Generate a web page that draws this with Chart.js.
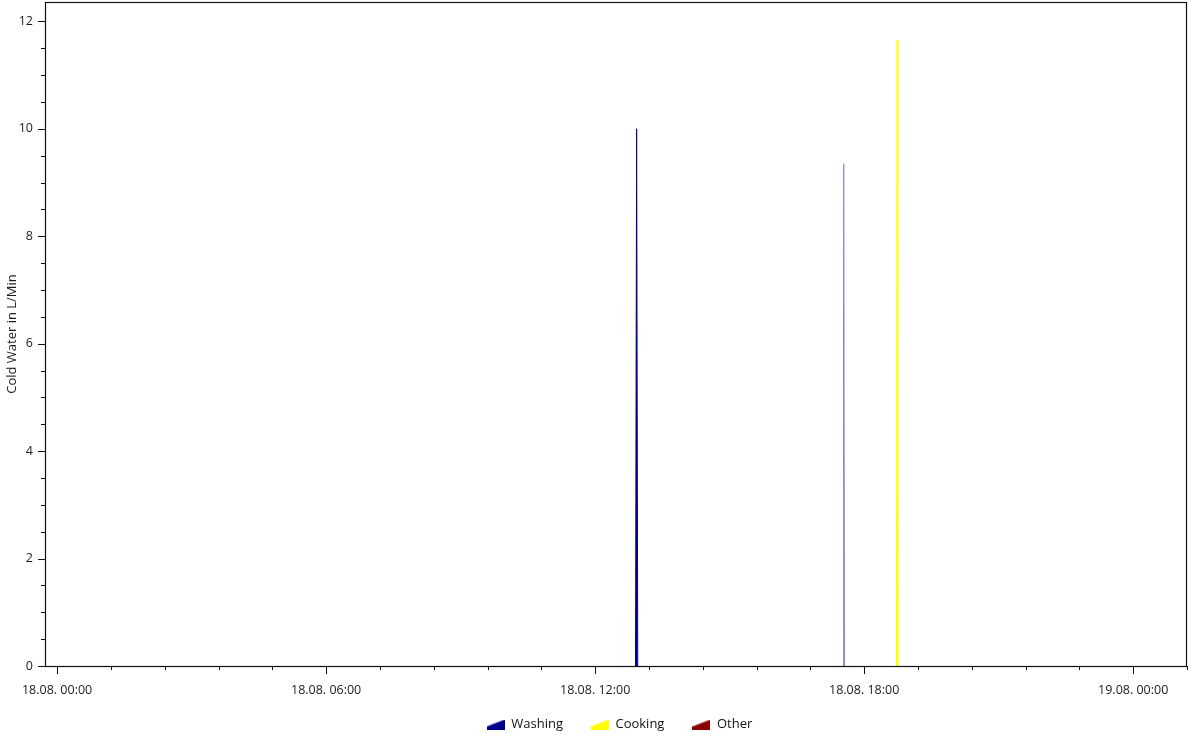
<!DOCTYPE html>
<html>
<head>
<meta charset="utf-8">
<title>Cold Water</title>
<script src="https://cdn.jsdelivr.net/npm/chart.js@4.4.1/dist/chart.umd.min.js"></script>
<style>
  html, body { margin: 0; padding: 0; background: #fff; overflow: hidden; }
  #wrap { width: 1188px; height: 735px; position: relative; }
</style>
</head>
<body>
<div id="wrap"><canvas id="chart"></canvas></div>
<script>
// time in hours since 18.08. 00:00, flow in L/Min
const washingTimes = [12.9, 12.925, 12.95, 17.53, 17.545, 17.56];
const washingFlow  = [0, 10, 0, 0, 9.35, 0];
const cookingTimes = [18.72, 18.735, 18.75];
const cookingFlow  = [0, 11.65, 0];
const otherTimes   = [0, 24];
const otherFlow    = [0, 0];

const seriesNames = ['Washing', 'Cooking', 'Other'];
const dayLabels = ['18.08.', '19.08.'];

const xMin = -0.27, xMax = 25.2;
const yMin = 0, yMax = 12.36;
const xStep = 1.2;   // small ticks, a label every 5th (6 h)
const yStep = 0.5;   // small ticks, a label every 4th

const navy = 'rgb(0, 0, 139)';
const navyFaint = 'rgba(40, 40, 170, 0.4)';
const yellow = 'rgb(255, 255, 0)';
const darkRed = 'rgb(139, 0, 0)';
const axisColor = '#111';
const textColor = '#1c1c1c';

const toPoints = (xs, ys) => xs.map((x, i) => ({ x: x, y: ys[i] }));

// little area icon for the legend
function areaIcon(color) {
  const c = document.createElement('canvas');
  c.width = 18; c.height = 10;
  const g = c.getContext('2d');
  g.fillStyle = color;
  g.beginPath();
  g.moveTo(0, 10);
  g.lineTo(0, 7);
  g.lineTo(18, 0);
  g.lineTo(18, 10);
  g.closePath();
  g.fill();
  return c;
}

function hourLabel(h) {
  const day = Math.floor(h / 24 + 1e-6);
  const hh = Math.round(h - day * 24);
  return dayLabels[day] + ' ' + String(hh).padStart(2, '0') + ':00';
}

// ticks + frame drawn by hand (short minor ticks, longer major ones),
// legend centred under the plot area
const framePlugin = {
  id: 'frame',
  afterLayout(chart) {
    if (chart.legend) {
      chart.legend.left = chart.chartArea.left + 7;
      chart.legend.right = chart.chartArea.right;
    }
    // let the time labels hang a little below the axis box without clipping
    chart.scales.x.bottom = chart.scales.x.top + 40;
  },
  afterDraw(chart) {
    const { ctx, chartArea: a, scales: { x, y } } = chart;
    ctx.save();
    ctx.strokeStyle = axisColor;
    ctx.lineWidth = 1;
    ctx.beginPath();
    x.ticks.forEach((t, i) => {
      const px = Math.round(x.getPixelForValue(t.value)) + 0.5;
      const len = i % 5 === 0 ? 8 : 4;
      ctx.moveTo(px, a.bottom);
      ctx.lineTo(px, a.bottom + len);
    });
    y.ticks.forEach((t, i) => {
      const py = Math.round(y.getPixelForValue(t.value)) + 0.5;
      const len = i % 4 === 0 ? 7 : 4;
      ctx.moveTo(a.left, py);
      ctx.lineTo(a.left - len, py);
    });
    ctx.stroke();
    ctx.lineWidth = 1.2;
    ctx.strokeRect(a.left + 0.5, a.top + 0.5, a.right - a.left - 1, a.bottom - a.top);
    ctx.restore();
  }
};

document.addEventListener('DOMContentLoaded', () => {
  Chart.defaults.font.family = "'Open Sans', 'Noto Sans', sans-serif";
  Chart.defaults.color = textColor;

  const onBaseline = (c) => c.p0.parsed.y === 0 && c.p1.parsed.y === 0;

  const makeSet = (label, xs, ys, color, segColor) => ({
    label: label,
    data: toPoints(xs, ys),
    borderColor: color,
    backgroundColor: color,
    borderWidth: 1,
    pointRadius: 0,
    fill: 'origin',
    tension: 0,
    pointStyle: areaIcon(color),
    segment: {
      borderColor: (c) => (onBaseline(c) ? 'rgba(0,0,0,0)' : segColor ? segColor(c) : undefined)
    }
  });

  new Chart(document.getElementById('chart'), {
    type: 'line',
    data: {
      datasets: [
        makeSet(seriesNames[0], washingTimes, washingFlow, navy,
          (c) => (c.p0.parsed.x > 15 ? navyFaint : undefined)),
        makeSet(seriesNames[1], cookingTimes, cookingFlow, yellow),
        makeSet(seriesNames[2], otherTimes, otherFlow, darkRed)
      ]
    },
    options: {
      responsive: true,
      maintainAspectRatio: false,
      animation: false,
      layout: { padding: { top: 2, right: 1, left: 0, bottom: -6 } },
      plugins: {
        tooltip: { enabled: false },
        legend: {
          position: 'bottom',
          labels: {
            usePointStyle: true,
            pointStyleWidth: 18,
            padding: 28,
            color: '#111',
            font: { size: 13 }
          }
        }
      },
      scales: {
        x: {
          type: 'linear',
          min: xMin,
          max: xMax,
          grid: { display: false, drawTicks: true, tickLength: 8 },
          border: { display: false },
          afterBuildTicks: (scale) => {
            const ticks = [];
            for (let i = 0; i * xStep <= xMax + 1e-6; i++) ticks.push({ value: i * xStep });
            scale.ticks = ticks;
          },
          afterFit: (scale) => {
            scale.height = 24;
            scale.paddingLeft = 0;
            scale.paddingRight = 0;
          },
          ticks: {
            autoSkip: false,
            maxRotation: 0,
            padding: 9,
            font: { size: 12.5 },
            callback: (v, i) => (i % 5 === 0 ? hourLabel(v) : '')
          }
        },
        y: {
          min: yMin,
          max: yMax,
          grid: { display: false, drawTicks: true, tickLength: 7 },
          border: { display: false },
          afterBuildTicks: (scale) => {
            const ticks = [];
            for (let i = 0; i * yStep <= yMax + 1e-6; i++) ticks.push({ value: i * yStep });
            scale.ticks = ticks;
          },
          afterFit: (scale) => {
            scale.width = 45;
            scale.paddingTop = 0;
            scale.paddingBottom = 0;
          },
          title: {
            display: true,
            text: 'Cold Water in L/Min',
            font: { size: 13 },
            padding: { top: 4, bottom: 4 }
          },
          ticks: {
            autoSkip: false,
            padding: 5,
            font: { size: 12.5 },
            callback: (v, i) => (i % 4 === 0 ? String(Math.round(v)) : '')
          }
        }
      }
    },
    plugins: [framePlugin]
  });
});
</script>
</body>
</html>
